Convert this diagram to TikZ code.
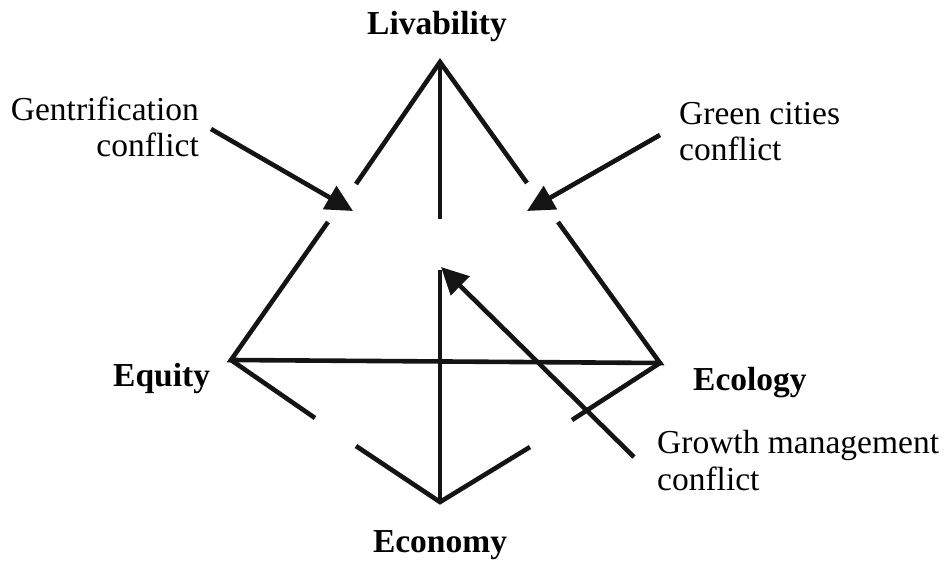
\documentclass[tikz,border=0pt]{standalone}
\usepackage{fontspec}
\setmainfont{Liberation Serif}
\usetikzlibrary{arrows.meta}
\begin{document}
\begin{tikzpicture}[x=1pt,y=-1pt,
  edge/.style={line width=4.6pt,line join=miter,color=black!92},
  conflictarrow/.style={edge,-{Triangle[length=27pt,width=26pt]}},
  vlabel/.style={font=\fontsize{33.5}{36}\selectfont\bfseries,inner sep=0pt},
  clabel/.style={font=\fontsize{33.5}{36.5}\selectfont,inner sep=0pt}]
\useasboundingbox (0,0) rectangle (945,561);
% vertices
\coordinate (L) at (440,62);
\coordinate (Eq) at (231,360);
\coordinate (Ec) at (660,363);
\coordinate (Eo) at (440,502);
% gap ends
\coordinate (la) at (356,184);
\coordinate (lb) at (328,222);
\coordinate (ra) at (527,183);
\coordinate (rb) at (558,222);
\coordinate (vt) at (440,219);
\coordinate (vb) at (440,270);
\coordinate (ea) at (315,418);
\coordinate (eb) at (356,446);
\coordinate (fa) at (572,420);
\coordinate (fb) at (530,447);
% labels
\node[vlabel,anchor=base] (liv) at (437,35) {Livability};
\node[vlabel,anchor=base west] (equ) at (113,386) {Equity};
\node[vlabel,anchor=base west] (eco) at (693,390) {Ecology};
\node[vlabel,anchor=base] (econ) at (440,552) {Economy};
\node[clabel,anchor=base east,align=right] (gen) at (199,157) {Gentrification\\conflict};
\node[clabel,anchor=base west,align=left] (grc) at (679,161) {Green cities\\conflict};
\node[clabel,anchor=base west,align=left] (grm) at (657,490) {Growth management\\conflict};
% arrow tails
\coordinate (gens) at (211,129);
\coordinate (grcs) at (660,135);
\coordinate (grms) at (634,457);
\coordinate (gent) at (353,211);
\coordinate (grct) at (527,211);
\coordinate (grmt) at (441,267);
% triangle edges
\draw[edge] (la) -- (L) -- (ra);
\draw[edge] (L) -- (vt);
\draw[edge] (lb) -- (Eq) -- (Ec) -- (rb);
\draw[edge] (Eq) -- (ea);
\draw[edge] (Ec) -- (fa);
\draw[edge] (eb) -- (Eo) -- (fb);
\draw[edge] (Eo) -- (vb);
% conflict arrows
\draw[conflictarrow] (gens) -- (gent);
\draw[conflictarrow] (grcs) -- (grct);
\draw[conflictarrow] (grms) -- (grmt);
\end{tikzpicture}
\end{document}
